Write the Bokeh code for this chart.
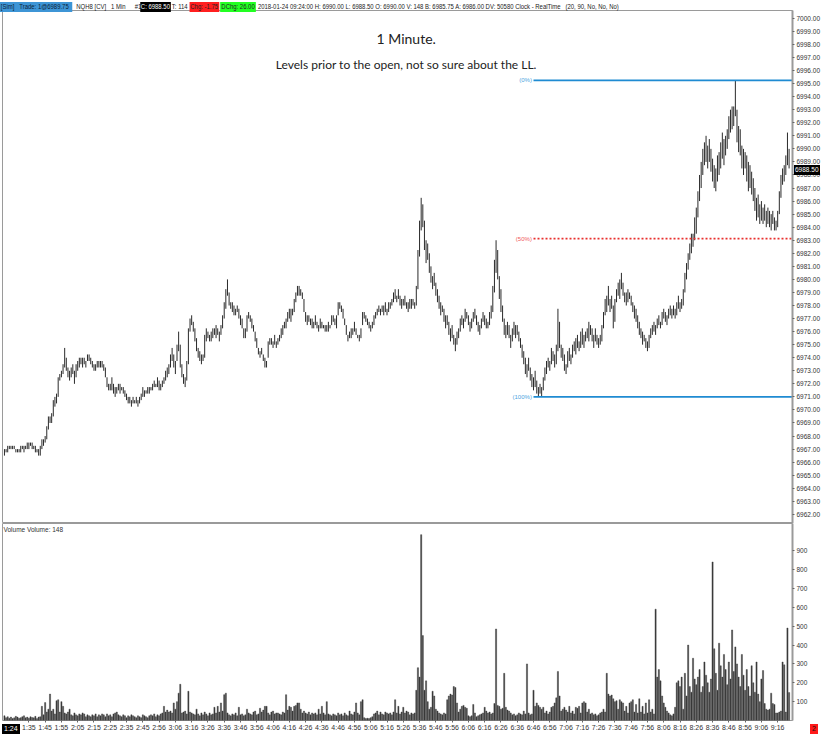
from bokeh.plotting import figure
from bokeh.layouts import column
from bokeh.models import Div, Label, FixedTicker, Range1d, PrintfTickFormatter
from bokeh.embed import file_html
from bokeh.resources import INLINE
from bokeh.core.properties import value

# ---------------- data (1-minute bars, index 0 = first bar on the chart) ----------------
lows = [
    6966.5, 6966.75, 6966.75, 6967, 6967, 6967, 6967, 6966.75, 6966.75, 6966.75,
    6966.75, 6967, 6966.75, 6967, 6967, 6967, 6967.25, 6967, 6967, 6966.75,
    6966.75, 6966.5, 6966.5, 6967, 6967.25, 6967.5, 6967.75, 6968.5, 6969, 6969,
    6969.5, 6970.25, 6970.5, 6971, 6972.25, 6972.5, 6972.75, 6973.25, 6973, 6972.5,
    6972.25, 6972.5, 6972.75, 6972, 6972.5, 6973, 6973.25, 6973.5, 6973.25, 6973.5,
    6973.25, 6973.75, 6973.75, 6973.5, 6973.25, 6973, 6973, 6973.25, 6973.25, 6973.25,
    6973.25, 6973, 6972.5, 6971.75, 6971.5, 6971.5, 6971.5, 6971.25, 6971, 6971.25,
    6971.5, 6971.25, 6971.5, 6971.25, 6971, 6970.75, 6970.5, 6970.5, 6970.25, 6970.5,
    6970.5, 6970.5, 6970.25, 6970.5, 6970.75, 6971, 6971, 6971.25, 6971.25, 6971.25,
    6971.5, 6971.5, 6971.75, 6971.75, 6971.75, 6971.5, 6971.5, 6971.75, 6972, 6972.25,
    6972.5, 6972.75, 6973.25, 6973.75, 6973.25, 6972.75, 6973.75, 6974.5, 6973.25, 6972.5,
    6972, 6971.75, 6972.25, 6973.5, 6976, 6976.5, 6976, 6975.25, 6974.5, 6974,
    6973.75, 6973.5, 6973.75, 6974, 6975.25, 6975.5, 6975.25, 6975.25, 6975.5, 6975.75,
    6975.5, 6975.75, 6975.25, 6975.75, 6976.25, 6977, 6977.75, 6978.75, 6978, 6977.75,
    6977.5, 6977.25, 6977.25, 6977.5, 6977, 6976.5, 6976.25, 6975.5, 6975.5, 6976,
    6977, 6976.75, 6976.25, 6976, 6975.25, 6974.75, 6974.25, 6974, 6974.25, 6973.75,
    6973.25, 6973.25, 6974, 6975, 6975, 6974.75, 6975, 6974.75, 6975, 6975.25,
    6975.5, 6975.75, 6976.25, 6976.25, 6976.75, 6977, 6976.75, 6977.25, 6977.5, 6978.25,
    6978.75, 6978.75, 6978.75, 6978.5, 6977.5, 6976.75, 6976.5, 6976.75, 6976.5, 6976.25,
    6976.25, 6976.5, 6976.25, 6976, 6976.25, 6976.25, 6976.25, 6976, 6976, 6976,
    6976.25, 6976.5, 6976.75, 6976.5, 6976.25, 6977.25, 6977.75, 6977.5, 6977, 6976.5,
    6975.75, 6975.25, 6975.5, 6975.5, 6975.75, 6976, 6975.75, 6975.5, 6975.25, 6975.5,
    6976.5, 6977, 6976.75, 6976.5, 6976.25, 6976, 6976.25, 6976.5, 6977, 6977.25,
    6977.5, 6977.25, 6977.5, 6977.25, 6977.5, 6977.25, 6977.5, 6977.75, 6978, 6978.25,
    6978.5, 6978.25, 6978.5, 6978, 6977.75, 6978, 6978, 6977.75, 6977.5, 6977.75,
    6977.75, 6978, 6977.75, 6978, 6979.25, 6981.75, 6983.75, 6984, 6982.25, 6981.25,
    6981.5, 6980.5, 6979.75, 6979.25, 6979.5, 6978.75, 6978.25, 6977.75, 6977.25, 6977.5,
    6976.75, 6976.25, 6976.5, 6975.75, 6975.25, 6975.5, 6975, 6974.5, 6975, 6975.5,
    6976, 6976.5, 6976.25, 6976.75, 6977, 6976.5, 6976, 6976.25, 6976.75, 6977,
    6976.5, 6976, 6975.75, 6976.25, 6976.75, 6976.5, 6976.25, 6976.25, 6976.5, 6977,
    6977.5, 6979, 6980.5, 6980, 6978.5, 6977.5, 6976.75, 6975.75, 6975.5, 6975.75,
    6975.5, 6974.75, 6975.25, 6975.75, 6975.5, 6975.75, 6975.25, 6974.75, 6974, 6973.5,
    6972.75, 6972.5, 6973, 6972.25, 6971.75, 6971.5, 6971.75, 6971.25, 6971, 6971.25,
    6971, 6971.5, 6972.25, 6972.75, 6973.25, 6973, 6973.5, 6973.75, 6973.25, 6973.5,
    6974.5, 6974.75, 6974, 6973.75, 6973, 6972.75, 6973.25, 6973.75, 6973.5, 6974,
    6974.5, 6974.25, 6974.75, 6974.5, 6974.75, 6975, 6974.75, 6975.25, 6975.5, 6975.25,
    6975.75, 6975.25, 6974.75, 6975.25, 6975, 6974.75, 6975, 6975.25, 6976.25, 6977.25,
    6977.5, 6978, 6977.5, 6977.75, 6976.25, 6976.75, 6978.25, 6978.75, 6978.5, 6979.25,
    6978.75, 6978.25, 6978, 6978.25, 6978.5, 6978, 6977.5, 6977, 6976.75, 6976.25,
    6975.75, 6975.5, 6975, 6975.25, 6974.75, 6974.5, 6974.75, 6975.5, 6975.75, 6976,
    6975.75, 6976.25, 6976.5, 6976.25, 6976.5, 6977, 6976.75, 6976.5, 6977, 6977.25,
    6977, 6977.25, 6977, 6977.25, 6977.75, 6977.5, 6977.75, 6978, 6979, 6980,
    6980.75, 6981.5, 6982, 6982.5, 6983, 6983.5, 6984.75, 6986, 6987, 6988,
    6988.75, 6989, 6988.5, 6989, 6988.25, 6987.5, 6987, 6986.75, 6987.5, 6988,
    6988.5, 6989.25, 6988.75, 6989.5, 6990, 6990.75, 6991.25, 6991.5, 6991.75, 6992.5,
    6990.5, 6989.75, 6989.5, 6988.5, 6988, 6988.5, 6987.5, 6986.75, 6987, 6986.5,
    6986, 6985.25, 6984.5, 6984.75, 6984.25, 6984.5, 6984.25, 6984.5, 6984, 6984.25,
    6984, 6983.75, 6984.25, 6983.75, 6983.75, 6984, 6985, 6986.25, 6987.25, 6987.5,
    6988, 6988.75, 6988.5,
]

highs = [
    6967, 6967, 6967.25, 6967.25, 6967.25, 6967.25, 6967.25, 6967, 6967, 6967,
    6967.25, 6967.25, 6967.25, 6967.25, 6967.5, 6967.5, 6967.5, 6967.5, 6967.25, 6967.25,
    6967, 6967, 6967.25, 6967.75, 6967.75, 6968, 6968.75, 6969.5, 6969.5, 6969.75,
    6970.75, 6971, 6971.25, 6972.5, 6972.75, 6973, 6973.5, 6974.75, 6974, 6973.25,
    6973, 6973.25, 6973.5, 6973, 6973.5, 6973.75, 6974, 6974, 6974, 6974,
    6973.75, 6974.25, 6974.25, 6974, 6973.75, 6973.5, 6973.5, 6973.75, 6973.75, 6973.75,
    6973.75, 6973.5, 6973.25, 6972.5, 6972, 6972, 6972.5, 6972, 6971.75, 6971.75,
    6972, 6972, 6971.75, 6971.75, 6971.5, 6971.25, 6971, 6971, 6970.75, 6971,
    6970.75, 6971, 6970.75, 6971, 6971.25, 6971.75, 6971.5, 6971.5, 6971.75, 6971.75,
    6971.75, 6972, 6972.25, 6972, 6972.5, 6972.25, 6972, 6972.25, 6972.5, 6973,
    6973.25, 6973.5, 6974.25, 6974.75, 6974.25, 6973.75, 6975, 6976, 6975, 6973.5,
    6972.75, 6972.5, 6973.75, 6976.25, 6977, 6977.25, 6976.75, 6976.25, 6975.5, 6974.75,
    6974.5, 6974.25, 6974.25, 6975.75, 6976.25, 6976, 6975.75, 6976, 6976.25, 6976.25,
    6976.5, 6976.25, 6976, 6976.5, 6977.25, 6978.25, 6979.25, 6980, 6979, 6978.25,
    6978.25, 6978, 6977.75, 6978, 6977.75, 6977.25, 6977, 6976.25, 6976.25, 6977.25,
    6977.5, 6977.25, 6977, 6976.5, 6976, 6975.5, 6974.75, 6974.5, 6974.75, 6974.25,
    6974, 6973.75, 6975.25, 6975.5, 6975.5, 6975.25, 6975.75, 6975.25, 6975.5, 6975.75,
    6976.25, 6976.5, 6976.75, 6977, 6977.5, 6977.75, 6977.75, 6977.75, 6978.5, 6979,
    6979.5, 6979.5, 6979.25, 6979, 6978.5, 6977.5, 6977.25, 6977.25, 6977, 6977,
    6976.75, 6977.25, 6976.75, 6976.5, 6977, 6976.75, 6976.5, 6976.5, 6976.5, 6976.75,
    6976.5, 6977.25, 6977.25, 6977, 6977.25, 6978.25, 6978.25, 6978, 6977.75, 6977,
    6976.5, 6975.75, 6976, 6976.25, 6976.25, 6976.75, 6976.25, 6975.75, 6975.75, 6976.25,
    6977.5, 6977.5, 6977.25, 6977, 6976.75, 6976.5, 6976.75, 6977.25, 6977.5, 6977.75,
    6978, 6977.75, 6978, 6978, 6978.25, 6977.75, 6978.25, 6978.25, 6978.5, 6979,
    6979.25, 6978.75, 6979.25, 6978.75, 6978.5, 6978.5, 6978.75, 6978.25, 6978.25, 6978.5,
    6978.5, 6978.5, 6978.25, 6979.5, 6982.25, 6984.5, 6986.25, 6985.75, 6984.5, 6983,
    6982.75, 6982, 6981, 6980.25, 6980.5, 6979.75, 6979.25, 6978.75, 6978.25, 6978,
    6977.75, 6977.25, 6977.25, 6976.75, 6976.25, 6976.5, 6975.75, 6975.5, 6976, 6976.25,
    6977, 6977.25, 6977, 6977.75, 6977.5, 6977.25, 6976.75, 6977, 6977.5, 6977.75,
    6977.25, 6976.75, 6976.5, 6977, 6977.5, 6977.25, 6977, 6976.75, 6977.5, 6978,
    6979.5, 6981.5, 6983, 6982.25, 6980.25, 6979.25, 6978, 6977, 6976.5, 6976.75,
    6976.5, 6975.75, 6976.25, 6976.75, 6976.5, 6976.5, 6976, 6975.5, 6975, 6974.5,
    6974, 6973.5, 6974, 6973.25, 6972.75, 6972.5, 6973, 6972.25, 6971.75, 6972,
    6971.75, 6972.5, 6973.25, 6973.75, 6974, 6973.75, 6974.75, 6974.5, 6974.25, 6975,
    6977.75, 6976.75, 6975, 6974.75, 6974.25, 6973.5, 6974.5, 6974.75, 6974.25, 6975,
    6975.25, 6975.5, 6975.75, 6975.25, 6976, 6976.25, 6975.75, 6976, 6976.25, 6976.75,
    6976.5, 6976.25, 6975.75, 6976.25, 6975.75, 6975.5, 6975.75, 6976.5, 6977.5, 6978.5,
    6978.75, 6979.5, 6978.5, 6978.75, 6978, 6978.5, 6979.25, 6979.75, 6980, 6980.5,
    6979.75, 6979, 6979, 6979.25, 6979, 6978.75, 6978.25, 6978, 6977.75, 6977.25,
    6976.75, 6976.25, 6976, 6975.75, 6975.5, 6975.25, 6975.75, 6976.25, 6976.5, 6976.75,
    6976.5, 6977, 6977.25, 6976.75, 6977.5, 6977.75, 6977.5, 6977.25, 6977.75, 6978,
    6977.75, 6978, 6977.75, 6978.25, 6978.75, 6978.25, 6978.5, 6979.25, 6980.5, 6981.25,
    6982, 6982.75, 6983.5, 6983.5, 6984.75, 6985.5, 6986.75, 6988, 6989, 6990,
    6990.5, 6991, 6990.25, 6990.75, 6990, 6989.25, 6988.75, 6988.5, 6989.5, 6989.75,
    6990.5, 6991.25, 6990.75, 6991, 6991.5, 6992.5, 6993, 6993.25, 6993.25, 6995.25,
    6993, 6991.75, 6991.5, 6990.25, 6990, 6989.75, 6989.5, 6989, 6988.75, 6988.25,
    6987.75, 6987, 6986.25, 6986.5, 6985.75, 6986, 6985.5, 6985.75, 6985.25, 6985.5,
    6985.25, 6985, 6985.25, 6984.75, 6984.5, 6985.25, 6986.75, 6988, 6988.5, 6988.75,
    6989.5, 6991.25, 6990,
]

volume = [
    25, 15, 20, 12, 18, 10, 14, 22, 18, 12,
    15, 20, 25, 14, 18, 12, 20, 16, 14, 22,
    10, 18, 20, 75, 30, 95, 45, 60, 140, 50,
    60, 35, 105, 110, 45, 100, 75, 40, 35, 45,
    60, 30, 25, 40, 30, 25, 35, 30, 40, 35,
    20, 30, 25, 20, 30, 25, 35, 20, 30, 25,
    35, 30, 20, 35, 25, 30, 20, 35, 40, 45,
    30, 25, 20, 30, 25, 15, 25, 20, 30, 25,
    20, 15, 25, 20, 15, 30, 25, 20, 15, 25,
    30, 25, 35, 20, 30, 25, 35, 40, 75, 45,
    55, 45, 50, 40, 93, 60, 100, 145, 192, 40,
    45, 50, 35, 155, 45, 40, 35, 30, 60, 35,
    25, 40, 30, 45, 35, 25, 40, 30, 35, 70,
    40, 75, 45, 93, 50, 137, 145, 40, 30, 25,
    35, 30, 40, 25, 70, 30, 35, 25, 30, 60,
    40, 35, 30, 45, 50, 30, 35, 65, 45, 55,
    75, 75, 40, 30, 45, 50, 35, 40, 40, 35,
    30, 45, 40, 137, 55, 75, 70, 50, 75, 80,
    93, 93, 60, 40, 50, 40, 35, 45, 30, 40,
    35, 40, 30, 60, 35, 75, 40, 30, 100, 35,
    30, 25, 35, 30, 25, 40, 30, 35, 25, 40,
    30, 25, 50, 35, 30, 45, 93, 40, 30, 100,
    110, 15, 10, 12, 10, 15, 20, 35, 40, 50,
    30, 45, 35, 30, 45, 40, 35, 40, 30, 45,
    110, 40, 75, 35, 45, 70, 40, 50, 45, 30,
    40, 35, 40, 160, 280, 230, 985, 450, 160, 210,
    100, 60, 70, 155, 130, 60, 50, 40, 35, 30,
    40, 35, 110, 130, 140, 135, 180, 175, 93, 45,
    60, 75, 80, 70, 65, 25, 20, 25, 85, 40,
    20, 25, 30, 35, 40, 70, 50, 40, 45, 35,
    40, 90, 485, 80, 75, 60, 65, 250, 70, 55,
    50, 40, 30, 35, 25, 30, 40, 35, 30, 50,
    35, 300, 40, 30, 35, 160, 75, 93, 80, 70,
    60, 70, 40, 50, 35, 45, 70, 75, 93, 120,
    260, 130, 50, 60, 70, 55, 45, 75, 40, 50,
    35, 70, 65, 75, 40, 93, 100, 93, 45, 60,
    35, 40, 30, 35, 25, 30, 40, 45, 60, 45,
    250, 140, 130, 135, 115, 100, 105, 60, 110, 100,
    93, 50, 75, 40, 93, 100, 110, 45, 85, 40,
    115, 45, 75, 35, 93, 40, 110, 45, 60, 35,
    590, 230, 270, 210, 130, 93, 70, 50, 40, 30,
    25, 35, 70, 200, 210, 180, 230, 60, 250, 130,
    400, 180, 150, 330, 220, 190, 230, 270, 150, 180,
    310, 240, 200, 150, 220, 840, 380, 250, 160, 410,
    290, 230, 350, 270, 190, 310, 220, 480, 260, 390,
    300, 230, 180, 350, 240, 160, 270, 180, 130, 290,
    200, 150, 310, 140, 100, 220, 265, 90, 60, 55,
    60, 145, 90, 85, 40, 40, 45, 50, 310, 295,
    45, 490, 148,
]

time_tick_pos = [15, 25, 35, 45, 55, 65, 75, 85, 95, 105, 115, 125, 135, 145, 155,
                 165, 175, 185, 195, 205, 215, 225, 235, 245, 255, 265, 275, 285,
                 295, 305, 315, 325, 335, 345, 355, 365, 375, 385, 395, 405, 415,
                 425, 435, 445, 455, 465, 475]
time_tick_labels = ["1:35", "1:45", "1:55", "2:05", "2:15", "2:25", "2:35", "2:45",
                    "2:56", "3:06", "3:16", "3:26", "3:36", "3:46", "3:56",
                    "4:06", "4:16", "4:26", "4:36", "4:46", "4:56",
                    "5:06", "5:16", "5:26", "5:36", "5:46", "5:56",
                    "6:06", "6:16", "6:26", "6:36", "6:46", "6:56",
                    "7:06", "7:16", "7:26", "7:36", "7:46", "7:56",
                    "8:06", "8:16", "8:26", "8:36", "8:46", "8:56",
                    "9:06", "9:16"]

price_ticks = [6962.0 + k for k in range(39)]
volume_ticks = [100, 200, 300, 400, 500, 600, 700, 800, 900]

level_values = [6995.25, 6983.125, 6971.0]
level_names = ["(0%)", "(50%)", "(100%)"]
level_start = 325
last_price = 6988.50

title_text = "1 Minute."
subtitle_text = "Levels prior to the open, not so sure about the LL."

# ---------------- layout constants ----------------
W = 822
RIGHT = 29
LEFT = 2
HEADER_H = 10
PRICE_H = 513
VOL_FRAME_H = 197
VOL_AXIS_H = 13
FONT = "Liberation Sans"
idx = list(range(len(lows)))
X0, X1 = -1.2, 484.1
P0, P1 = 6961.3, 7000.6
x_range = Range1d(X0, X1)

frame_w = W - LEFT - RIGHT
marker_top = HEADER_H + (P1 - last_price) / (P1 - P0) * PRICE_H - 5
vol_axis_top = HEADER_H + PRICE_H + VOL_FRAME_H + 2

# ---------------- header bar (condensed) + axis-side markers as HTML overlays ----------------
SX = 0.85  # horizontal condensation of the header strip


def piece(left, text, bg=None, fg="#222", minw=None, top=0, size=None, pad="0 1px", scale=1.0):
    st = ("position:absolute;top:%dpx;left:%.1fpx;height:10px;line-height:10px;"
          "padding:%s;z-index:20;" % (top, left / scale, pad))
    if bg:
        st += "background:%s;" % bg
    if minw:
        st += "min-width:%.1fpx;" % (minw / scale)
    if size:
        st += "font-size:%s;" % size
    st += "color:%s;" % fg
    return '<span style="%s">%s</span>' % (st, text)


strip = (
    '<div style="position:absolute;left:0;top:0;width:%dpx;height:%dpx;'
    'transform:scaleX(%.2f);transform-origin:0 0;">' % (int(W / SX), HEADER_H, SX)
    + piece(0, "[Sim]&nbsp;&nbsp; Trade: 1@6989.75", "#3d95d6", "#0d2236", 72, scale=SX)
    + piece(75.5, "NQH8 [CV]&nbsp;&nbsp; 1 Min", scale=SX)
    + piece(134, "#1", scale=SX)
    + piece(140, "C: 6988.50", "#000", "#fff", 28, scale=SX)
    + piece(171, "T: 114", scale=SX)
    + piece(189.5, "Chg: -1.75", "#ff1f1f", "#222", 29, scale=SX)
    + piece(220.5, "DChg: 26.00", "#22ff22", "#222", 34, scale=SX)
    + piece(257, "2018-01-24 09:24:00 H: 6990.00 L: 6988.50 O: 6990.00 V: 148 B: 6985.75 "
                 "A: 6986.00 DV: 50580 Clock - RealTime&nbsp;&nbsp; (20, 90, No, No, No)",
            scale=SX)
    + '</div>'
)
overlays = (
    piece(LEFT + frame_w + 1, "6988.50", "#000", "#fff", None, int(round(marker_top)),
          "6.5px", "0 1px")
    + piece(LEFT, "1:24", "#000", "#fff", None, vol_axis_top, "7px", "0 2px")
    + piece(LEFT + frame_w + 17, "2", "#ff1a1a", "#111", None, vol_axis_top, "7px", "0 2px")
)
header_html = (
    '<div style="position:relative;width:%dpx;height:%dpx;font-family:\'Liberation Sans\',Arial,'
    'sans-serif;font-size:7px;line-height:10px;white-space:nowrap;color:#222;">' % (W, HEADER_H)
    + strip + overlays + '</div>'
)
header = Div(text=header_html, width=W, height=HEADER_H, margin=(0, 0, 0, 0),
             styles={"overflow": "visible", "z-index": "10"})

# ---------------- price panel ----------------
p = figure(width=W, height=PRICE_H, x_range=x_range, y_range=Range1d(P0, P1),
           output_backend="svg", toolbar_location=None, x_axis_location=None,
           y_axis_location="right", min_border_left=LEFT, min_border_right=RIGHT,
           min_border_top=0, min_border_bottom=0)
p.grid.visible = False
p.outline_line_color = "#9a9a9a"
p.background_fill_color = "white"
p.border_fill_color = "white"

ya = p.yaxis[0]
ya.ticker = FixedTicker(ticks=price_ticks)
ya.formatter = PrintfTickFormatter(format="%.2f")
ya.major_label_text_font = FONT
ya.major_label_text_font_size = "6.5px"
ya.major_label_text_color = "#333333"
ya.major_label_standoff = 2
ya.major_tick_out = 2
ya.major_tick_in = 0
ya.major_tick_line_color = "#666666"
ya.minor_tick_line_color = None
ya.axis_line_color = "#9a9a9a"
ya.axis_line_width = 2

p.segment(x0=idx, y0=lows, x1=idx, y1=highs, line_color="#2a2a2a", line_width=1)

# retracement levels
p.segment(x0=[level_start, level_start], y0=[level_values[0], level_values[2]],
          x1=[X1, X1], y1=[level_values[0], level_values[2]],
          line_color="#1f8bd2", line_width=1.6)
p.segment(x0=[level_start], y0=[level_values[1]], x1=[X1], y1=[level_values[1]],
          line_color="#e8312f", line_width=1.6, line_dash="2 2")
p.text(x=[level_start - 1] * 3, y=level_values, text=level_names,
       text_align="right", text_baseline="middle", text_font=value(FONT),
       text_font_size="6px", text_color=["#4aa3e0", "#f05a5a", "#4aa3e0"])

# titles
p.text(x=[246.8], y=[6998.43], text=[title_text], text_align="center",
       text_baseline="middle", text_font=value("Lato"), text_font_size="14px",
       text_color="#222222")
p.text(x=[246.8], y=[6996.48], text=[subtitle_text], text_align="center",
       text_baseline="middle", text_font=value("Lato"), text_font_size="12px",
       text_color="#222222")

# ---------------- volume panel ----------------
v = figure(width=W, height=VOL_FRAME_H + VOL_AXIS_H, x_range=x_range, y_range=Range1d(0, 1044),
           output_backend="svg", toolbar_location=None, y_axis_location="right",
           min_border_left=LEFT, min_border_right=RIGHT, min_border_top=0,
           min_border_bottom=VOL_AXIS_H)
v.grid.visible = False
v.outline_line_color = "#9a9a9a"

vy = v.yaxis[0]
vy.ticker = FixedTicker(ticks=volume_ticks)
vy.major_label_text_font = FONT
vy.major_label_text_font_size = "6.5px"
vy.major_label_text_color = "#333333"
vy.major_label_standoff = 2
vy.major_tick_out = 2
vy.major_tick_in = 0
vy.major_tick_line_color = "#666666"
vy.minor_tick_line_color = None
vy.axis_line_color = "#9a9a9a"
vy.axis_line_width = 2

vx = v.xaxis[0]
vx.ticker = FixedTicker(ticks=time_tick_pos)
vx.major_label_overrides = {pos: lab for pos, lab in zip(time_tick_pos, time_tick_labels)}
vx.major_label_text_font = FONT
vx.major_label_text_font_size = "7px"
vx.major_label_text_color = "#333333"
vx.major_label_standoff = 1
vx.major_tick_out = 2
vx.major_tick_in = 0
vx.major_tick_line_color = "#666666"
vx.minor_tick_line_color = None
vx.axis_line_color = None

v.vbar(x=idx, top=volume, width=0.72, fill_color="#3b3b3b", line_color="#3b3b3b",
       line_width=0.4)

v.add_layout(Label(x=-0.6, y=1012, text="Volume  Volume: 148", text_font=FONT,
                   text_font_size="6.5px", text_color="#333333", text_baseline="middle"))

layout = column(header, p, v, spacing=0)
open("out.html", "w").write(file_html(layout, INLINE))
